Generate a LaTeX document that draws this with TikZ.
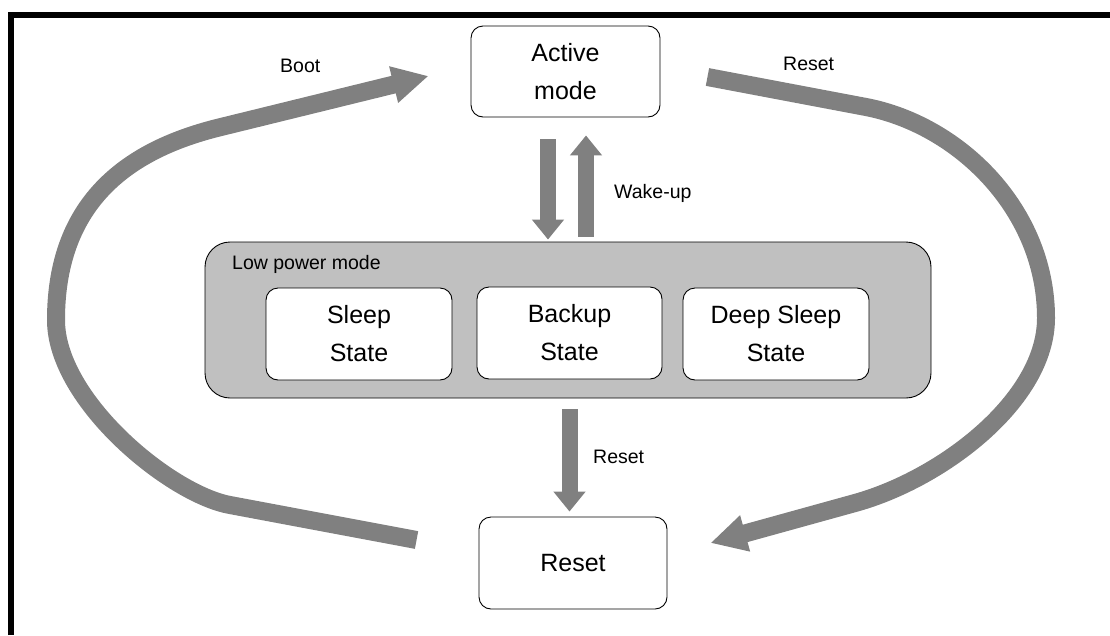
\documentclass[tikz,border=0pt]{standalone}
\usepackage{fontspec}
\setmainfont{Liberation Sans}
\usepackage{xcolor}
\usetikzlibrary{arrows.meta}

\definecolor{arrowgray}{HTML}{808080}
\definecolor{lpgray}{HTML}{C0C0C0}

\begin{document}
\begin{tikzpicture}[x=1pt,y=-1pt,
  statebox/.style={draw,line width=0.9pt,rounded corners=12pt,fill=white,align=center,inner sep=0pt,font=\fontsize{25}{38}\selectfont},
  lbl/.style={anchor=base west,inner sep=0pt,font=\fontsize{19.5}{23}\selectfont},
  fatarrow/.style={draw=arrowgray,line width=16pt,-{Triangle[length=20pt,width=31pt]}},
  bigarrow/.style={draw=arrowgray,line width=18pt,-{Triangle[length=36pt,width=35pt]}}]

    \useasboundingbox (0,0) rectangle (1110,635);
    \draw[line width=6pt] (11,635) -- (11,15) -- (1110,15);

    \node[statebox,minimum width=189pt,minimum height=91pt] (active) at (565.5,71.5) {Active\\mode};
    \node[draw,line width=0.9pt,fill=lpgray,rounded corners=25pt,minimum width=726pt,minimum height=156pt] (lowpower) at (568,320) {};
    \node[lbl] (lowlbl) at (232,269) {Low power mode};
    \node[statebox,minimum width=186pt,minimum height=92pt] (sleep) at (359,334) {Sleep\\State};
    \node[statebox,minimum width=185pt,minimum height=92pt] (backup) at (569.5,333) {Backup\\State};
    \node[statebox,minimum width=186pt,minimum height=92pt] (deepsleep) at (776,334) {Deep Sleep\\State};
    \node[statebox,minimum width=188pt,minimum height=92pt] (reset) at (573,563) {Reset};

    \draw[fatarrow,shorten <=22pt,shorten >=2pt] ([xshift=-17.5pt]active.south) -- ([xshift=-20pt]lowpower.north);
    \draw[fatarrow,shorten <=5pt,shorten >=18pt] ([xshift=18pt]lowpower.north) -- ([xshift=20.5pt]active.south);
    \draw[fatarrow,shorten <=11pt,shorten >=5pt] ([xshift=1.5pt]lowpower.south) -- ([xshift=-3.5pt]reset.north);

    \draw[bigarrow] ([xshift=-62pt,yshift=23pt]reset.west) -- (230,505)
        .. controls (170,494) and (56,400) .. (56,320)
        .. controls (56,200) and (130,149) .. (221,127)
        -- ([xshift=-42pt,yshift=-4.5pt]active.west);
    \draw[bigarrow] ([xshift=47pt,yshift=-5.5pt]active.east) -- (866,107)
        .. controls (959,125) and (1046,210) .. (1046,318)
        .. controls (1046,400) and (942,479) .. (855,503)
        -- ([xshift=43pt,yshift=20pt]reset.east);

    \node[lbl] (bootlbl) at (280,72) {Boot};
    \node[lbl] (resetlbl) at (783,70) {Reset};
    \node[lbl] (wakelbl) at (614,198) {Wake-up};
    \node[lbl] (lowresetlbl) at (593,463) {Reset};

\end{tikzpicture}
\end{document}
